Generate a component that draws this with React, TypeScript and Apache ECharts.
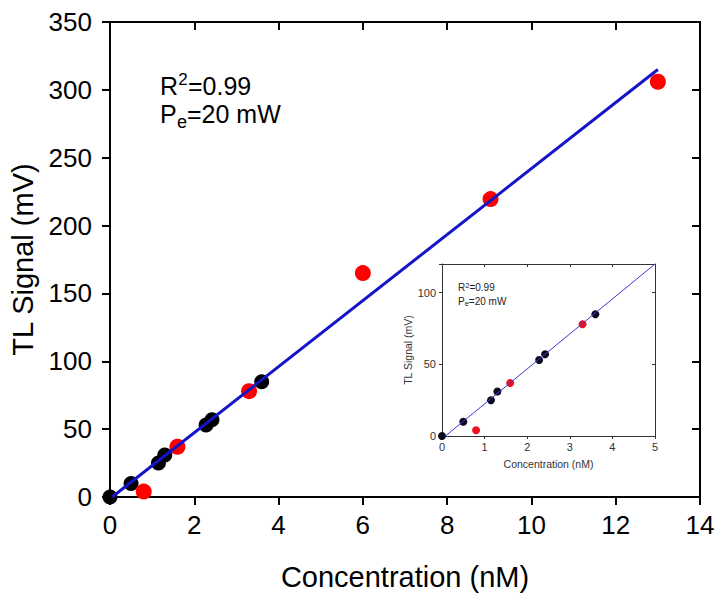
import React, { useEffect, useRef } from 'react';
import * as echarts from 'echarts';

// Main plot data (Concentration nM, TL signal mV)
const blackX = [0, 0.5, 1.15, 1.3, 2.28, 2.42, 3.6];
const blackY = [0, 10, 25, 31, 53, 57, 85];
const redX = [0.8, 1.6, 3.3, 6.0, 9.03, 13.0];
const redY = [4, 37, 78, 165, 219.5, 306];
const fitX = [0.05, 13];
const fitY = [0, 315];

// Inset data
const insetBlackX = [0, 0.5, 1.15, 1.3, 2.28, 2.42, 3.6];
const insetBlackY = [0, 10, 25, 31, 53, 57, 85];
const insetRedX = [0.8, 1.6, 3.3];
const insetRedY = [4, 37, 78];
const insetFitX = [0.08, 5];
const insetFitY = [0, 120];

const r2Text = '0.99';
const peText = '20 mW';

const FONT = '"Liberation Sans", Arial, Helvetica, sans-serif';

const zip = (xs: number[], ys: number[]) => xs.map((x, i) => [x, ys[i]]);

export default function App() {
  const ref = useRef<HTMLDivElement>(null);

  useEffect(() => {
    if (!ref.current) return;
    const chart = echarts.init(ref.current, undefined, { renderer: 'svg' });

    const mainAxisLine = { onZero: false, lineStyle: { color: '#000', width: 2 } };
    const insetAxisLine = { onZero: false, lineStyle: { color: '#333', width: 1 } };

    const supRich = (fs: number, lh: number, sfs: number, slh: number, fill: string) => ({
      b: { fontSize: fs, lineHeight: lh, fontFamily: FONT, fill },
      sup: { fontSize: sfs, lineHeight: slh, fontFamily: FONT, fill, verticalAlign: 'top' },
      sub: { fontSize: sfs, lineHeight: slh, fontFamily: FONT, fill, verticalAlign: 'bottom' },
    });

    const txt = (text: string, x: number, y: number, fontSize: number, fill = '#000') => ({
      type: 'text', x, y, z: 10,
      style: { text, fontSize, fontFamily: FONT, fill, align: 'left', verticalAlign: 'middle' },
    });

    const option: any = {
      animation: false,
      backgroundColor: '#fff',
      textStyle: { fontFamily: FONT },
      grid: [
        { left: 110, top: 22, width: 590, height: 475, containLabel: false, outerBoundsMode: 'none' },
        { left: 442, top: 264, width: 213, height: 172, containLabel: false, outerBoundsMode: 'none', show: true, backgroundColor: '#fff', borderWidth: 0 },
      ],
      xAxis: [
        {
          gridIndex: 0, type: 'value', position: 'bottom', min: 0, max: 14, interval: 2,
          axisLine: mainAxisLine,
          axisTick: { show: true, inside: false, length: 8, lineStyle: { color: '#000', width: 2 } },
          axisLabel: { fontSize: 26, color: '#000', margin: 15, fontFamily: FONT },
          splitLine: { show: false },
          name: 'Concentration (nM)', nameLocation: 'middle', nameGap: 65,
          nameTextStyle: { fontSize: 29, color: '#000', fontFamily: FONT },
        },
        {
          gridIndex: 0, type: 'value', position: 'top', min: 0, max: 14, interval: 2,
          axisLine: mainAxisLine,
          axisTick: { show: true, inside: true, length: 8, lineStyle: { color: '#000', width: 2 } },
          axisLabel: { show: false },
          splitLine: { show: false },
        },
        {
          gridIndex: 1, type: 'value', position: 'bottom', min: 0, max: 5, interval: 1,
          axisLine: insetAxisLine,
          axisTick: { show: true, inside: false, length: 3, lineStyle: { color: '#333', width: 1 } },
          axisLabel: { fontSize: 11, color: '#333', margin: 5, fontFamily: FONT },
          splitLine: { show: false },
          name: 'Concentration (nM)', nameLocation: 'middle', nameGap: 22,
          nameTextStyle: { fontSize: 10.5, color: '#333', fontFamily: FONT },
        },
        {
          gridIndex: 1, type: 'value', position: 'top', min: 0, max: 5, interval: 1,
          axisLine: insetAxisLine,
          axisTick: { show: true, inside: true, length: 3, lineStyle: { color: '#333', width: 1 } },
          axisLabel: { show: false },
          splitLine: { show: false },
        },
      ],
      yAxis: [
        {
          gridIndex: 0, type: 'value', position: 'left', min: 0, max: 350, interval: 50,
          axisLine: mainAxisLine,
          axisTick: { show: true, inside: false, length: 8, lineStyle: { color: '#000', width: 2 } },
          axisLabel: { fontSize: 26, color: '#000', margin: 18, fontFamily: FONT },
          splitLine: { show: false },
          name: 'TL Signal (mV)', nameLocation: 'middle', nameGap: 66,
          nameTextStyle: { fontSize: 29, color: '#000', fontFamily: FONT },
        },
        {
          gridIndex: 0, type: 'value', position: 'right', min: 0, max: 350, interval: 50,
          axisLine: mainAxisLine,
          axisTick: { show: true, inside: true, length: 8, lineStyle: { color: '#000', width: 2 } },
          axisLabel: { show: false },
          splitLine: { show: false },
        },
        {
          gridIndex: 1, type: 'value', position: 'left', min: 0, max: 120, interval: 50,
          axisLine: insetAxisLine,
          axisTick: { show: true, inside: false, length: 3, lineStyle: { color: '#333', width: 1 } },
          axisLabel: {
            fontSize: 11, color: '#333', margin: 6, fontFamily: FONT,
            formatter: (v: number) => (v % 50 === 0 ? String(v) : ''),
          },
          splitLine: { show: false },
          name: 'TL Signal (mV)', nameLocation: 'middle', nameGap: 28,
          nameTextStyle: { fontSize: 10.5, color: '#333', fontFamily: FONT },
        },
        {
          gridIndex: 1, type: 'value', position: 'right', min: 0, max: 120, interval: 50,
          axisLine: insetAxisLine,
          axisTick: { show: true, inside: true, length: 3, lineStyle: { color: '#333', width: 1 } },
          axisLabel: { show: false },
          splitLine: { show: false },
        },
      ],
      series: [
        {
          type: 'scatter', xAxisIndex: 0, yAxisIndex: 0, data: zip(blackX, blackY),
          symbol: 'circle', symbolSize: 15, itemStyle: { color: '#000', opacity: 1 }, z: 2,
        },
        {
          type: 'scatter', xAxisIndex: 0, yAxisIndex: 0, data: zip(redX, redY),
          symbol: 'circle', symbolSize: 16, itemStyle: { color: '#ff0000', opacity: 1 }, z: 3,
        },
        {
          type: 'line', xAxisIndex: 0, yAxisIndex: 0, data: zip(fitX, fitY),
          showSymbol: false, symbol: 'none', lineStyle: { color: '#1414c8', width: 3 }, z: 4,
        },
        {
          type: 'scatter', xAxisIndex: 2, yAxisIndex: 2, data: zip(insetBlackX, insetBlackY),
          symbol: 'circle', symbolSize: 8, itemStyle: { color: '#0a0a1e', opacity: 1 }, z: 2,
        },
        {
          type: 'scatter', xAxisIndex: 2, yAxisIndex: 2, data: zip(insetRedX, insetRedY),
          symbol: 'circle', symbolSize: 8, itemStyle: { color: '#ee1122', opacity: 1 }, z: 3,
        },
        {
          type: 'line', xAxisIndex: 2, yAxisIndex: 2, data: zip(insetFitX, insetFitY),
          showSymbol: false, symbol: 'none', lineStyle: { color: '#3a3ad0', width: 1 }, z: 4,
        },
      ],
      graphic: [
        txt('R', 160, 86, 25),
        txt('2', 178.3, 79, 17),
        txt('=' + r2Text, 188, 86, 25),
        txt('P', 160, 113.5, 25),
        txt('e', 176.9, 122, 18),
        txt('=' + peText, 187, 113.5, 25),
        {
          type: 'text', x: 458, y: 287, z: 10,
          style: {
            text: `{b|R}{sup|2}{b|=${r2Text}}`,
            align: 'left', verticalAlign: 'middle',
            rich: supRich(10, 12, 7.5, 2, '#222'),
          },
        },
        {
          type: 'text', x: 458, y: 301, z: 10,
          style: {
            text: `{b|P}{sub|e}{b|=${peText}}`,
            align: 'left', verticalAlign: 'middle',
            rich: supRich(10, 12, 7.5, 2, '#222'),
          },
        },
      ],
    };

    chart.setOption(option);
    return () => chart.dispose();
  }, []);

  return (
    <div
      ref={ref}
      style={{ position: 'fixed', left: 0, top: 0, width: 726, height: 601, background: '#fff' }}
    />
  );
}
